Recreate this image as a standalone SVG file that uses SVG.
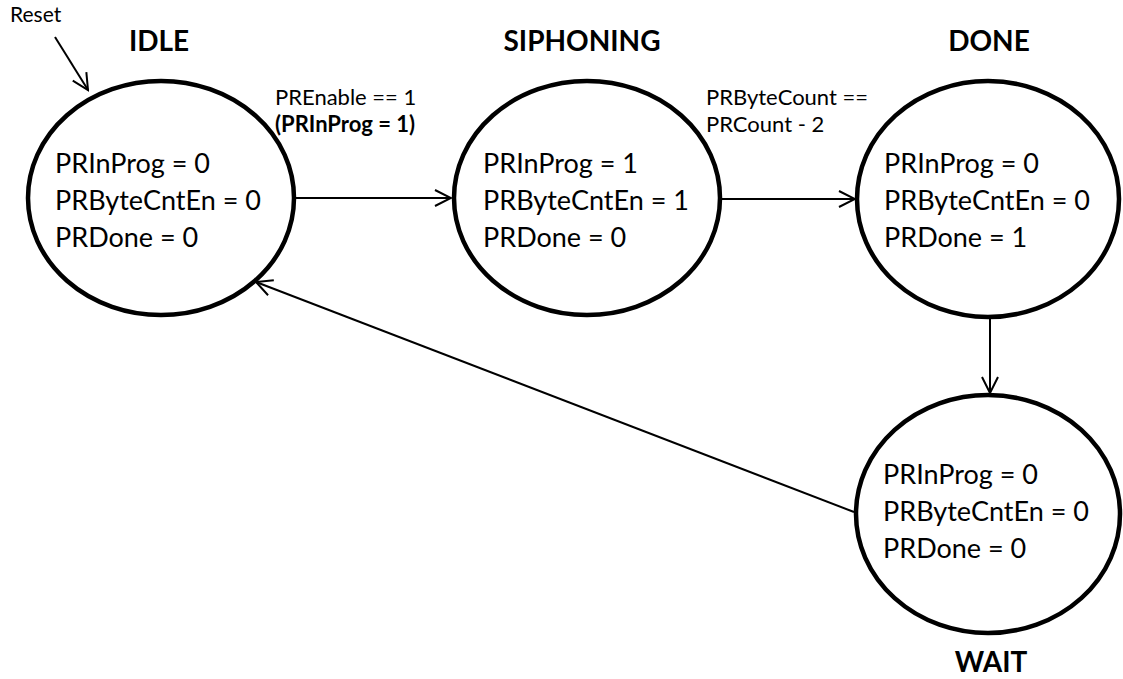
<svg xmlns="http://www.w3.org/2000/svg" width="1123" height="679" viewBox="0 0 1123 679">
<style>
.st{fill:#fff;stroke:#000;stroke-width:4.5}
.t{font-family:Lato,"Open Sans",sans-serif;font-size:27px;fill:#000}
.h{font-family:Lato,"Open Sans",sans-serif;font-size:28px;font-weight:bold;fill:#000;text-anchor:middle}
.l{font-family:Lato,"Open Sans",sans-serif;font-size:22px;fill:#000}
.c{fill:none;stroke:#000;stroke-width:2}
</style>
<defs>
<marker id="a" viewBox="0 0 20 20" refX="18" refY="10" markerWidth="20" markerHeight="20" markerUnits="userSpaceOnUse" orient="auto">
<path d="M2,2 L18,10 L2,18" fill="none" stroke="#000" stroke-width="2"/>
</marker>
</defs>
<rect width="1123" height="679" fill="#fff"/>
<g id="connectors">
<line class="c" x1="55" y1="37" x2="88" y2="90" marker-end="url(#a)"/>
<line class="c" x1="296" y1="198" x2="451" y2="198" marker-end="url(#a)"/>
<line class="c" x1="721" y1="199" x2="855" y2="199" marker-end="url(#a)"/>
<line class="c" x1="990" y1="318" x2="990" y2="393" marker-end="url(#a)"/>
<line class="c" x1="854" y1="512" x2="256" y2="282" marker-end="url(#a)"/>
<text class="l" x="10" y="22" style="font-size:21px">Reset</text>
<text class="l" x="275" y="105">PREnable == 1</text>
<text class="l" x="275" y="132" font-weight="bold">(PRInProg = 1)</text>
<text class="l" x="706" y="105">PRByteCount ==</text>
<text class="l" x="706" y="132">PRCount - 2</text>
</g>
<g id="idle">
<ellipse class="st" cx="161" cy="198" rx="133" ry="117"/>
<text class="h" x="159" y="51">IDLE</text>
<text class="t" x="55" y="173">PRInProg = 0</text>
<text class="t" x="55" y="210">PRByteCntEn = 0</text>
<text class="t" x="55" y="247">PRDone = 0</text>
</g>
<g id="siphoning">
<ellipse class="st" cx="587" cy="198" rx="133" ry="117"/>
<text class="h" x="582" y="51">SIPHONING</text>
<text class="t" x="483" y="173">PRInProg = 1</text>
<text class="t" x="483" y="210">PRByteCntEn = 1</text>
<text class="t" x="483" y="247">PRDone = 0</text>
</g>
<g id="done">
<ellipse class="st" cx="988" cy="199" rx="131" ry="118"/>
<text class="h" x="989" y="51">DONE</text>
<text class="t" x="884" y="173">PRInProg = 0</text>
<text class="t" x="884" y="210">PRByteCntEn = 0</text>
<text class="t" x="884" y="247">PRDone = 1</text>
</g>
<g id="wait">
<ellipse class="st" cx="988" cy="514" rx="132" ry="119"/>
<text class="h" x="991" y="672">WAIT</text>
<text class="t" x="883" y="484">PRInProg = 0</text>
<text class="t" x="883" y="521">PRByteCntEn = 0</text>
<text class="t" x="883" y="558">PRDone = 0</text>
</g>
</svg>
